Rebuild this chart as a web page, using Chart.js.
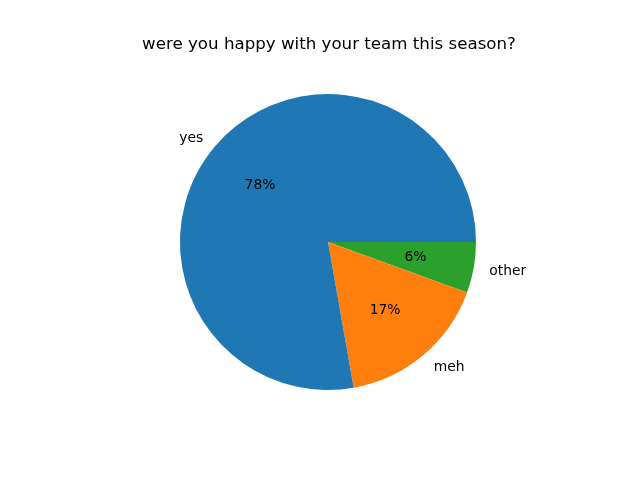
<!DOCTYPE html>
<html>
<head>
<meta charset="utf-8">
<script src="https://cdn.jsdelivr.net/npm/chart.js@4.4.0/dist/chart.umd.min.js"></script>
<style>
html,body{margin:0;padding:0;background:#fff;}
#wrap{width:640px;height:480px;position:relative;}
</style>
</head>
<body>
<div id="wrap"><canvas id="c" width="640" height="480"></canvas></div>
<script>
const titleText = 'were you happy with your team this season?';
const categories = ['yes', 'meh', 'other'];
const values = [14, 3, 1];
const colors = ['#1f77b4', '#ff7f0e', '#2ca02c'];

// matplotlib draws counter-clockwise from 3 o'clock; Chart.js clockwise, so reverse the order
const revLabels = categories.slice().reverse();
const revValues = values.slice().reverse();
const revColors = colors.slice().reverse();
const total = values.reduce((a, b) => a + b, 0);

const labelPlugin = {
  id: 'mplLabels',
  afterDraw(chart) {
    const ctx = chart.ctx;
    ctx.save();
    ctx.fillStyle = '#000';
    ctx.font = '16.67px "DejaVu Sans"';
    ctx.textAlign = 'center';
    ctx.textBaseline = 'alphabetic';
    const cx0 = (chart.chartArea.left + chart.chartArea.right) / 2;
    ctx.fillText(titleText, cx0 + 1, 49);
    const meta = chart.getDatasetMeta(0);
    ctx.font = '13.89px "DejaVu Sans"';
    meta.data.forEach((arc, i) => {
      const p = arc.getProps(['x', 'y', 'startAngle', 'endAngle', 'outerRadius'], true);
      const mid = (p.startAngle + p.endAngle) / 2;
      const cx = Math.cos(mid), cy = Math.sin(mid);
      const right = cx > 0;
      const lx = p.x + 1.1 * p.outerRadius * cx + (right ? 1 : 0);
      const ly = p.y + 1.1 * p.outerRadius * cy + 1;
      ctx.textAlign = right ? 'left' : 'right';
      ctx.textBaseline = 'middle';
      ctx.fillText(revLabels[i], lx, ly);
      const px = p.x + 0.6 * p.outerRadius * cx;
      const py = p.y + 0.6 * p.outerRadius * cy;
      ctx.textAlign = 'center';
      const pct = (revValues[i] / total * 100).toFixed(0) + '%';
      ctx.fillText(pct, px, py);
    });
    ctx.restore();
  }
};

new Chart(document.getElementById('c'), {
  type: 'pie',
  data: {
    labels: revLabels,
    datasets: [{
      data: revValues,
      backgroundColor: revColors,
      borderWidth: 0
    }]
  },
  options: {
    responsive: false,
    devicePixelRatio: 1,
    animation: false,
    rotation: 90,
    layout: { padding: { left: 180, right: 164, top: 94, bottom: 90 } },
    plugins: {
      legend: { display: false },
      title: { display: false },
      tooltip: { enabled: false }
    }
  },
  plugins: [labelPlugin]
});
</script>
</body>
</html>
